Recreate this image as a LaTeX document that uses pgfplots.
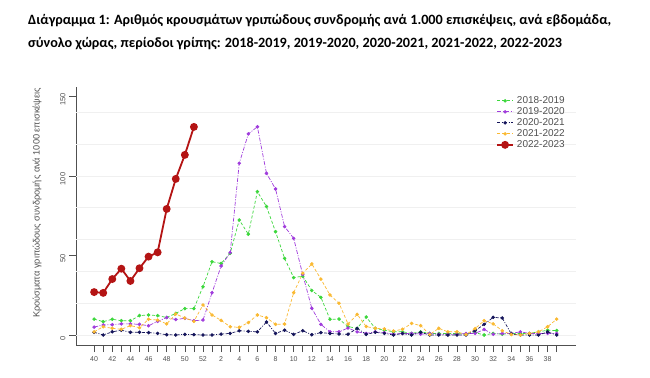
\documentclass[border=0pt]{standalone}
\usepackage{fontspec}
\setmainfont{Liberation Sans}
\newfontfamily\titlefont{Carlito}
\usepackage{pgfplots}
\usepackage{pgfplotstable}
\pgfplotsset{compat=1.18}
\definecolor{cgreen}{RGB}{60,215,60}
\definecolor{cpurple}{RGB}{160,60,220}
\definecolor{cnavy}{RGB}{20,20,90}
\definecolor{corange}{RGB}{250,185,50}
\definecolor{cred}{RGB}{180,20,20}
\definecolor{txtgray}{RGB}{80,80,80}
\definecolor{gridgray}{RGB}{240,240,240}

\pgfplotstableread{
idx g p n o
0 10 5 1.7 2
1 8.4 6.3 0 5.2
2 9.9 6.5 2 4.2
3 9 7 3 3.6
4 9 7 1.7 5.9
5 12.2 6.7 1.7 4.6
6 12.6 5.8 1.5 9.9
7 12.2 8.6 1 9.4
8 11 11 0.2 7
9 13.6 9.7 0 13.2
10 16.6 10.5 0.4 10.7
11 16.6 9 0.2 8.6
12 30.4 9.4 0 18.9
13 46.1 26.6 0 12.6
14 45 43.4 0.6 9.2
15 51.4 51.8 1 5.2
16 72.4 108 2.7 4.8
17 63.4 126.5 2.3 7.8
18 90.2 131 2 12.6
19 80.8 101.7 8.2 10.9
20 65 91.9 1 6.7
21 48.2 68.2 3 6.9
22 36.1 60.8 0.4 26.6
23 37 38 2.7 38.8
24 28 16.8 0.2 44.7
25 23.7 6.7 1.5 35.2
26 9.9 2 1 25.2
27 10 2 0.6 20
28 5.3 4.4 0.5 6.9
29 4.2 2 4.2 13
30 11.3 1 0.4 5.3
31 4.2 2 1.7 4.2
32 3 1.5 1 3.8
33 2 0.5 0 2.5
34 2 1 1 3.6
35 1 1 0 7.3
36 2 0.5 1.7 5.9
37 1 1 0 0.3
38 1 0.5 0 4.2
39 1 0.5 0 2
40 1 0.5 0 2
41 0.5 1 0 0.3
42 1.5 1 2.7 4
43 0 3.5 6.7 9
44 1 0.5 11.1 7
45 0.5 1 10.7 2.7
46 1 1 0.6 0.3
47 1 2 0 0
48 1 1 0 1
49 2 1 0 2
50 3 1 1.9 5.2
51 2.8 1 0 10
}\mainTable

\pgfplotstableread{
idx r
0 27
1 26.5
2 35.2
3 41.7
4 34
5 42
6 49.3
7 52
8 79.3
9 98.2
10 113.3
11 130.9
}\redTable

\begin{document}
\begin{tikzpicture}
\useasboundingbox (0,0) rectangle (650bp,378bp);
\node[anchor=base west, inner sep=0pt, font=\titlefont\bfseries\fontsize{14.2bp}{16bp}\selectfont] at (28bp,353bp)
  {Διάγραμμα 1: Αριθμός κρουσμάτων γριπώδους συνδρομής ανά 1.000 επισκέψεις, ανά εβδομάδα,};
\node[anchor=base west, inner sep=0pt, font=\titlefont\bfseries\fontsize{14.2bp}{16bp}\selectfont] at (28bp,330bp)
  {σύνολο χώρας, περίοδοι γρίπης: 2018-2019, 2019-2020, 2020-2021, 2021-2022, 2022-2023};
\node[rotate=90, inner sep=0pt, text=txtgray, font=\fontsize{9.2bp}{10bp}\selectfont] at (37bp,175bp)
  {Κρούσματα γριπώδους συνδρομής ανά 1000 επισκέψεις};
\begin{axis}[
  at={(76bp,33bp)}, anchor=south west,
  scale only axis, width=500bp, height=258.3bp,
  xmin=-2, xmax=53.13, ymin=-6.29, ymax=156.2,
  axis lines=left,
  axis line style={-, draw=txtgray, line width=0.7bp},
  tick align=outside,
  major tick length=7bp,
  tick style={draw=txtgray, line width=0.6bp},
  xtick={0,...,51},
  xticklabels={40,,42,,44,,46,,48,,50,,52,,2,,4,,6,,8,,10,,12,,14,,16,,18,,20,,22,,24,,26,,28,,30,,32,,34,,36,,38,},
  ytick={0,50,100,150},
  /pgf/number format/assume math mode=true,
  xticklabel style={font=\fontsize{7bp}{8bp}\selectfont, text=txtgray, yshift=-1bp},
  yticklabel style={font=\fontsize{7.5bp}{8bp}\selectfont, text=txtgray, rotate=90, anchor=south, xshift=-3bp},
  extra y ticks={0,20,40,60,80,100,120,140},
  extra y tick labels={},
  extra y tick style={grid=major, major tick length=0pt, tick style={draw=none}},
  grid style={draw=gridgray, line width=0.7bp},
  clip=false,
  legend style={at={(0.834,0.975)}, anchor=north west, draw=none, fill=none,
    font=\fontsize{10bp}{10bp}\selectfont, text=txtgray,
    nodes={inner xsep=3bp, inner ysep=0.8bp, text height=7.4bp, text depth=2bp},
    row sep=0pt},
  legend cell align=left,
  legend image code/.code={
    \draw[mark repeat=2, mark phase=2, #1] plot coordinates {(0bp,0bp) (8bp,0bp) (16bp,0bp)};
  },
]
\addplot[cgreen, line width=0.7bp, dash pattern=on 3bp off 2bp, mark=*, mark size=1.4bp, mark options={solid}] table[x=idx, y=g] {\mainTable};
\addlegendentry{2018-2019}
\addplot[cpurple, line width=0.7bp, dash pattern=on 4bp off 1.5bp on 1bp off 1.5bp, mark=*, mark size=1.4bp, mark options={solid}] table[x=idx, y=p] {\mainTable};
\addlegendentry{2019-2020}
\addplot[cnavy, line width=0.7bp, dash pattern=on 3bp off 1.5bp on 1bp off 1.5bp, mark=*, mark size=1.4bp, mark options={solid}] table[x=idx, y=n] {\mainTable};
\addlegendentry{2020-2021}
\addplot[corange, line width=0.7bp, dash pattern=on 3bp off 2bp, mark=*, mark size=1.4bp, mark options={solid}] table[x=idx, y=o] {\mainTable};
\addlegendentry{2021-2022}
\addplot[cred, line width=1.8bp, mark=*, mark size=3bp, mark options={solid}] table[x=idx, y=r] {\redTable};
\addlegendentry{2022-2023}
\end{axis}
\end{tikzpicture}
\end{document}
